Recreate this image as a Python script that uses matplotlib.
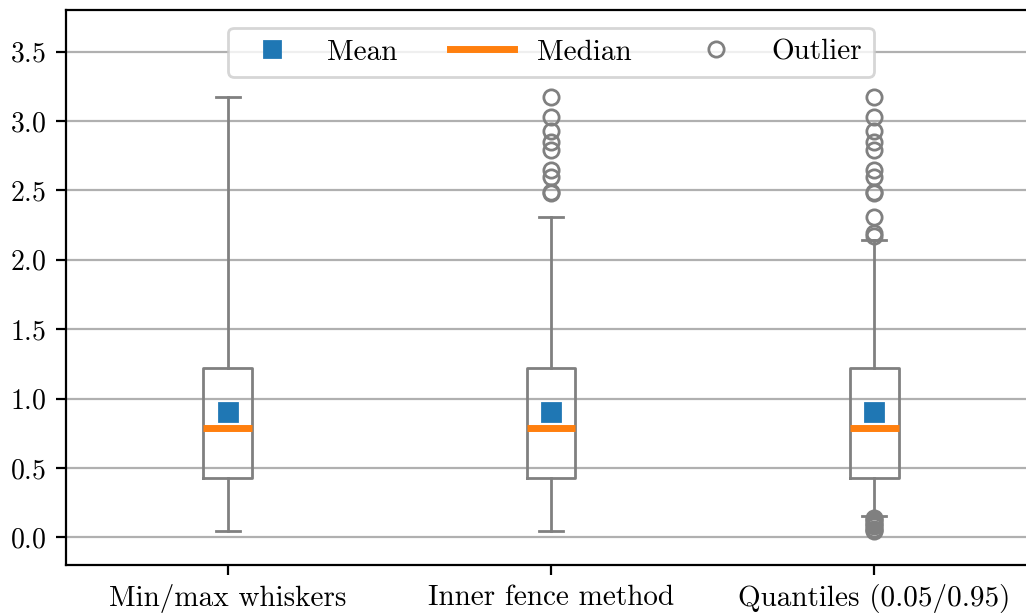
import matplotlib
matplotlib.use('Agg')
import matplotlib.pyplot as plt
from matplotlib.lines import Line2D

plt.rcParams['font.family'] = ['cmr10', 'DejaVu Serif']
plt.rcParams['mathtext.fontset'] = 'cm'
plt.rcParams['axes.formatter.use_mathtext'] = True
plt.rcParams['font.size'] = 10.5

# same sample, three ways of drawing the whiskers
labels = ['Min/max whiskers', 'Inner fence method', 'Quantiles (0.05/0.95)']
q1 = 0.43
med = 0.79
q3 = 1.22
mean = 0.90
whis_lo = [0.045, 0.045, 0.155]
whis_hi = [3.17, 2.31, 2.14]
fliers_minmax = []
fliers_fence = [3.17, 3.03, 2.93, 2.85, 2.79, 2.65, 2.60, 2.49, 2.48]
fliers_quant = fliers_fence + [2.31, 2.19, 2.17,
                               0.14, 0.13, 0.12, 0.10, 0.09, 0.08, 0.06, 0.05, 0.045]
fliers = [fliers_minmax, fliers_fence, fliers_quant]

grey = '#808080'
blue = '#1f77b4'
orange = '#ff7f0e'

stats = []
for i in range(3):
    stats.append(dict(label=labels[i], q1=q1, med=med, q3=q3, mean=mean,
                      whislo=whis_lo[i], whishi=whis_hi[i], fliers=fliers[i]))

fig = plt.figure(figsize=(5.13, 3.075), dpi=200)
ax = fig.add_axes([0.0643, 0.0813, 0.9454, 0.9024])

ax.bxp(stats, showmeans=True, widths=0.15,
       boxprops=dict(color=grey, linewidth=1.0),
       whiskerprops=dict(color=grey, linewidth=1.0),
       capprops=dict(color=grey, linewidth=1.0),
       medianprops=dict(color=orange, linewidth=2.5),
       meanprops=dict(marker='s', markerfacecolor=blue, markeredgecolor=blue,
                      markersize=6.5),
       flierprops=dict(marker='o', markerfacecolor='none', markeredgecolor=grey,
                       markersize=5.5, markeredgewidth=1.0))

ax.set_xlim(0.5, 3.5)
ax.set_ylim(-0.2, 3.8)
ax.set_yticks([0.0, 0.5, 1.0, 1.5, 2.0, 2.5, 3.0, 3.5])
ax.tick_params(axis='y', labelsize=10)
ax.yaxis.grid(True, color='#b0b0b0', linewidth=0.8)
ax.set_axisbelow(True)

handles = [
    Line2D([], [], marker='s', color=blue, linestyle='none', markersize=6.0),
    Line2D([], [], color=orange, linewidth=2.5),
    Line2D([], [], marker='o', linestyle='none', markerfacecolor='none',
           markeredgecolor=grey, markersize=5.5, markeredgewidth=1.0),
]
ax.legend(handles, ['Mean', 'Median', 'Outlier'], loc='upper center', ncol=3,
          handlelength=2.2, columnspacing=1.78, handletextpad=0.8,
          borderaxespad=0.6)

plt.savefig('out.png', dpi=200)
plt.close()
